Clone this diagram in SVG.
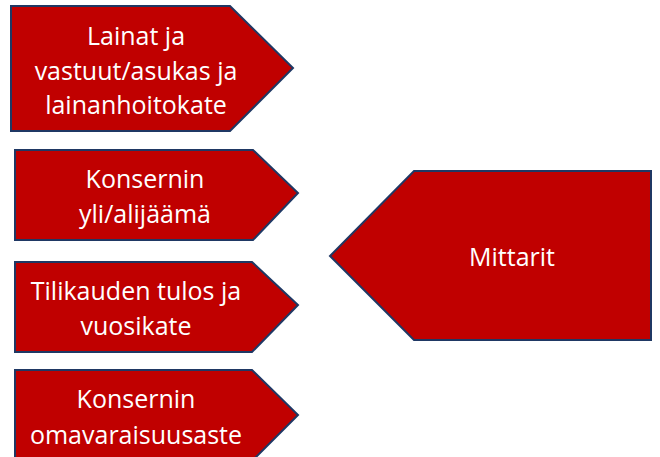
<svg xmlns="http://www.w3.org/2000/svg" width="660" height="457" viewBox="0 0 660 457">
<style>
.s{fill:#C00000;stroke:#1F3864;stroke-width:2;stroke-linejoin:miter}
.t{fill:#FFFFFF;font-family:"Open Sans","Liberation Sans",sans-serif;font-size:25px;text-anchor:middle}
</style>
<rect width="660" height="457" fill="#FFFFFF"/>
<g id="n1"><polygon class="s" points="11,6 230,6 293,68 230,131 11,131"/>
<text class="t" x="136" y="45">Lainat ja</text><text class="t" x="136" y="80">vastuut/asukas ja</text><text class="t" x="136" y="114">lainanhoitokate</text></g>
<g id="n2"><polygon class="s" points="15,150 253,150 298,193 253,240 15,240"/>
<text class="t" x="145" y="188">Konsernin</text><text class="t" x="145" y="223">yli/alijäämä</text></g>
<g id="n3"><polygon class="s" points="15,262 252,262 298,305 252,352 15,352"/>
<text class="t" x="136" y="300">Tilikauden tulos ja</text><text class="t" x="136" y="335">vuosikate</text></g>
<g id="n4"><polygon class="s" points="15,370 252,370 298,415 252,461 15,461"/>
<text class="t" x="136" y="408">Konsernin</text><text class="t" x="136" y="444">omavaraisuusaste</text></g>
<g id="n5"><polygon class="s" points="414,171 651,171 651,340 414,340 330,256"/>
<text class="t" x="512" y="266">Mittarit</text></g>
<g id="connectors"></g>
</svg>
